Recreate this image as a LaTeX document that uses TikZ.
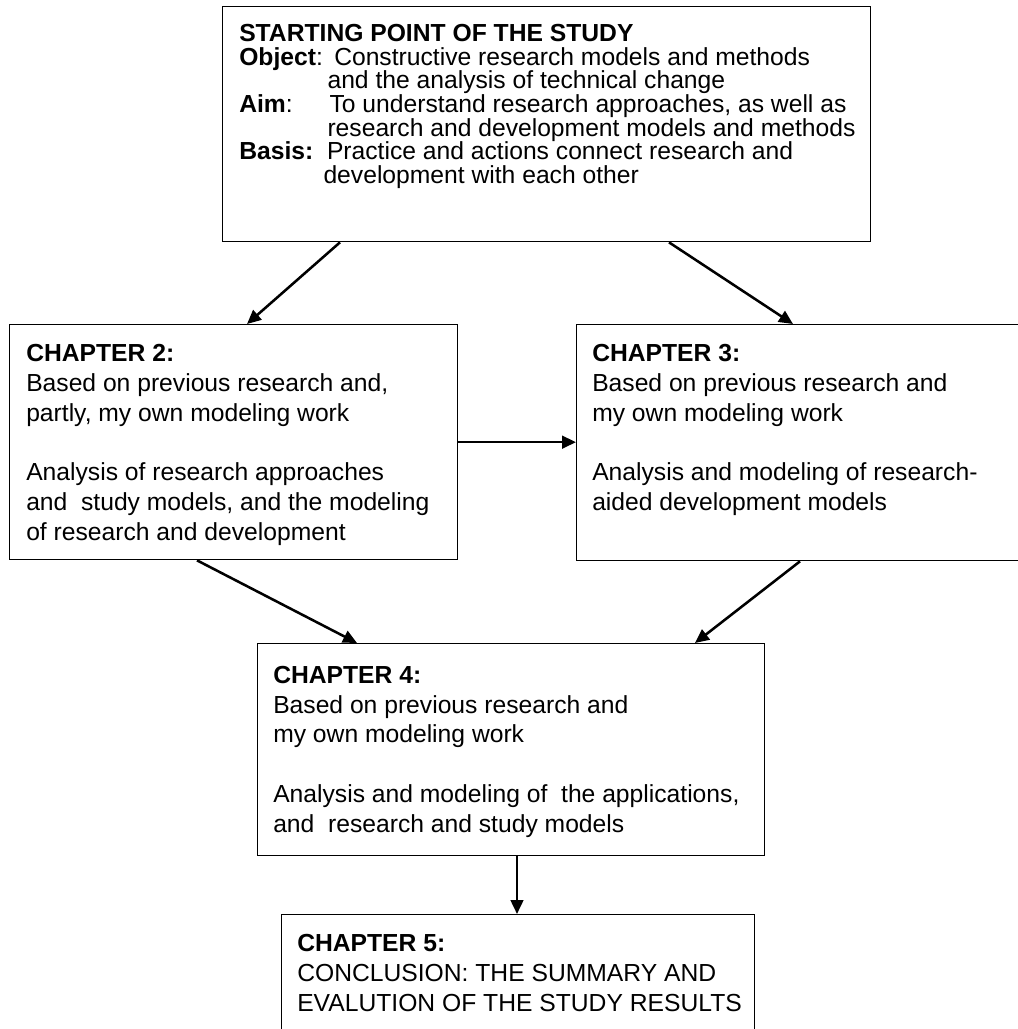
\documentclass[tikz,border=0pt]{standalone}
\usepackage{fontspec}
\setmainfont{Liberation Sans}
\usetikzlibrary{arrows.meta}
\begin{document}
\begin{tikzpicture}[x=0.75pt,y=-0.75pt,
  box/.style={draw=black, line width=1pt, rectangle, inner sep=0pt, anchor=north west},
  txt/.style={inner sep=0pt, anchor=base west, font=\fontsize{18.5pt}{22.35pt}\selectfont},
  toptxt/.style={txt, font=\fontsize{18.5pt}{17.7pt}\selectfont},
  link/.style={line width=1.9pt, -{Triangle[length=10.5pt,width=9.5pt]}}]
\useasboundingbox (0,0) rectangle (1018,1029);
\clip (0,0) rectangle (1018,1029);

% frames
\node[box, minimum width=486pt,    minimum height=176.25pt] (top) at (222,6)   {};
\node[box, minimum width=336pt,    minimum height=176.25pt] (ch2) at (9,324)   {};
\node[box, minimum width=340.5pt,  minimum height=177pt]    (ch3) at (576,324) {};
\node[box, minimum width=380.25pt, minimum height=159pt]    (ch4) at (257,643) {};
\node[box, minimum width=354.75pt, minimum height=94.5pt]   (ch5) at (281,914) {};

% texts
\node[toptxt] (top-text) at (239,41.7) {\parbox[t]{500pt}{%
\textbf{STARTING POINT OF THE STUDY}\\
\makebox[71.25pt][l]{\textbf{Object}:}Constructive research models and methods\\
\hspace*{66.2pt}and the analysis of technical change\\
\makebox[67.7pt][l]{\textbf{Aim}:}To understand research approaches, as well as\\
\hspace*{66.2pt}research and development models and methods\\
\makebox[65.8pt][l]{\textbf{Basis:}}Practice and actions connect research and\\
\hspace*{63.2pt}development with each other}};

\node[txt] (ch2-text) at (26,361.7) {\parbox[t]{450pt}{%
\textbf{CHAPTER 2:}\\
Based on previous research and,\\
partly, my own modeling work\\[22.35pt]
Analysis of research approaches\\
and\ \ study models, and the modeling\\
of research and development}};

\node[txt] (ch3-text) at (592,361.7) {\parbox[t]{450pt}{%
\textbf{CHAPTER 3:}\\
Based on previous research and\\
my own modeling work\\[22.35pt]
Analysis and modeling of research-\\
aided development models}};

\node[txt] (ch4-text) at (273,683.3) {\parbox[t]{450pt}{%
\textbf{CHAPTER 4:}\\
Based on previous research and\\
my own modeling work\\[22.35pt]
Analysis and modeling of\ \ the applications,\\
and\ \ research and study models}};

\node[txt] (ch5-text) at (297,951.7) {\parbox[t]{450pt}{%
\textbf{CHAPTER 5:}\\
CONCLUSION: THE SUMMARY AND\\
EVALUTION OF THE STUDY RESULTS}};

% connectors
\draw[link] ([xshift=88.5pt]top.south west) -- ([xshift=178.5pt]ch2.north west);
\draw[link] ([xshift=335.25pt]top.south west) -- ([xshift=162.75pt]ch3.north west);
\draw[link] (ch2.east) -- (ch2.east -| ch3.west);
\draw[link] ([xshift=141pt]ch2.south west) -- ([xshift=75pt]ch4.north west);
\draw[link] ([xshift=168pt]ch3.south west) -- ([xshift=328.5pt]ch4.north west);
\draw[link] ([xshift=195pt]ch4.south west) -- ([xshift=195pt]ch4.south west |- ch5.north);
\end{tikzpicture}
\end{document}
